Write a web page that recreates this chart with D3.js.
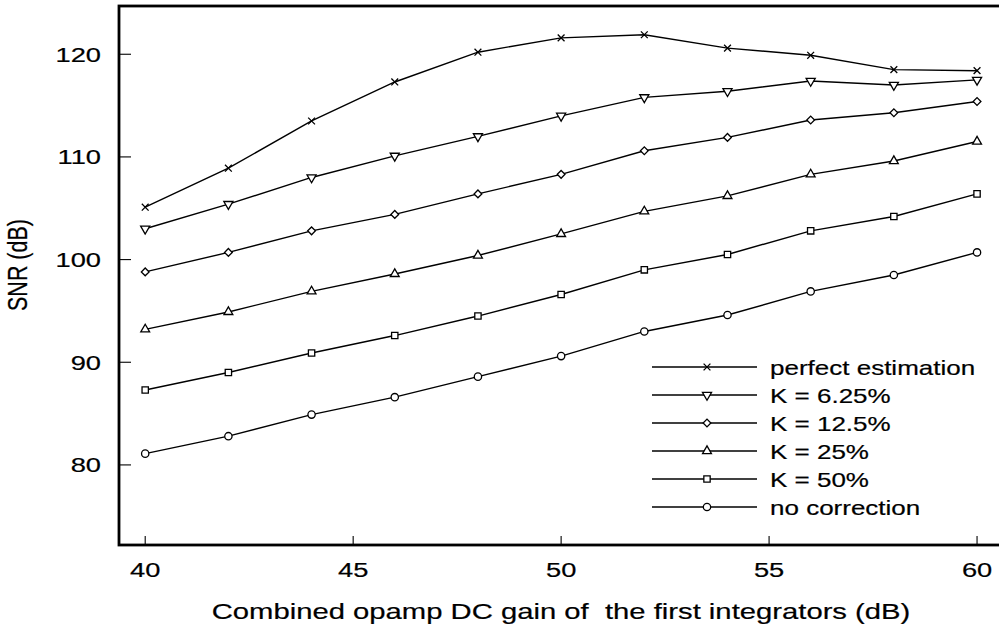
<!DOCTYPE html>
<html>
<head>
<meta charset="utf-8">
<script src="https://cdn.jsdelivr.net/npm/d3@7"></script>
<style>
  body { margin: 0; background: #fff; }
  text { font-family: "Liberation Sans", Arial, sans-serif; fill: #000; stroke: #000; stroke-width: 0.2; white-space: pre; }
</style>
</head>
<body>
<svg id="chart" width="999" height="627"></svg>
<script>
// values
const gains = [40, 42, 44, 46, 48, 50, 52, 54, 56, 58, 60];
const perfect = [105.1, 108.9, 113.5, 117.3, 120.2, 121.6, 121.9, 120.6, 119.9, 118.5, 118.4];
const k625 = [103.0, 105.4, 108.0, 110.1, 112.0, 114.0, 115.8, 116.4, 117.4, 117.0, 117.5];
const k125 = [98.8, 100.7, 102.8, 104.4, 106.4, 108.3, 110.6, 111.9, 113.6, 114.3, 115.4];
const k25 = [93.2, 94.9, 96.9, 98.6, 100.4, 102.5, 104.7, 106.2, 108.3, 109.6, 111.5];
const k50 = [87.3, 89.0, 90.9, 92.6, 94.5, 96.6, 99.0, 100.5, 102.8, 104.2, 106.4];
const noCorr = [81.1, 82.8, 84.9, 86.6, 88.6, 90.6, 93.0, 94.6, 96.9, 98.5, 100.7];

const seriesNames = ["perfect estimation", "K = 6.25%", "K = 12.5%", "K = 25%", "K = 50%", "no correction"];
const seriesVals = [perfect, k625, k125, k25, k50, noCorr];
const seriesMarks = ["x", "tridown", "diamond", "triup", "square", "circle"];

const xTicks = [40, 45, 50, 55, 60];
const yTicks = [80, 90, 100, 110, 120];

const svg = d3.select("#chart");
const SX = 1.3; // the scanned lettering is wide

const x = d3.scaleLinear().domain([39.37, 60.6]).range([119, 1002]);
const y = d3.scaleLinear().domain([72.2, 124.7]).range([545, 6]);

// frame
svg.append("rect")
    .attr("x", x.range()[0]).attr("y", y.range()[1])
    .attr("width", x.range()[1] - x.range()[0])
    .attr("height", y.range()[0] - y.range()[1])
    .attr("fill", "none").attr("stroke", "#000").attr("stroke-width", 2.8);

// inward ticks
svg.append("g").selectAll("line").data(yTicks).enter().append("line")
    .attr("x1", 119).attr("x2", 131)
    .attr("y1", d => y(d)).attr("y2", d => y(d))
    .attr("stroke", "#000").attr("stroke-width", 1.1);
svg.append("g").selectAll("line").data(xTicks).enter().append("line")
    .attr("x1", d => x(d)).attr("x2", d => x(d))
    .attr("y1", 545).attr("y2", 536)
    .attr("stroke", "#000").attr("stroke-width", 1.1);

function label(px, py, str, size, anchor, rot) {
    return svg.append("text")
        .attr("transform", "translate(" + px + "," + py + ") scale(" + SX + ",1)" + (rot ? " rotate(" + rot + ")" : ""))
        .attr("font-size", size)
        .attr("text-anchor", anchor)
        .text(str);
}

yTicks.forEach(d => label(101, y(d) + 7.5, d, 21, "end"));
xTicks.forEach(d => label(x(d), 577, d, 21, "middle"));
label(561, 619, "Combined opamp DC gain of  the first integrators (dB)", 22.5, "middle");
label(27, 265, "SNR (dB)", 21.5, "middle", -90);

// markers
function drawMark(g, type, cx, cy) {
    if (type === "x") {
        const s = 3.4;
        g.append("path")
            .attr("d", "M" + (cx - s) + "," + (cy - s) + "L" + (cx + s) + "," + (cy + s) +
                "M" + (cx - s) + "," + (cy + s) + "L" + (cx + s) + "," + (cy - s))
            .attr("stroke", "#000").attr("stroke-width", 1.3);
        return;
    }
    let sym, size = 40, rot = 0;
    if (type === "tridown") { sym = d3.symbolTriangle; rot = 180; size = 36; }
    else if (type === "triup") { sym = d3.symbolTriangle; size = 34; }
    else if (type === "diamond") { sym = d3.symbolSquare; rot = 45; size = 30; }
    else if (type === "square") { sym = d3.symbolSquare; size = 40; }
    else { sym = d3.symbolCircle; size = 42; }
    g.append("path")
        .attr("d", d3.symbol().type(sym).size(size)())
        .attr("transform", "translate(" + cx + "," + cy + ") rotate(" + rot + ")")
        .attr("fill", "#fff").attr("stroke", "#000").attr("stroke-width", 1.3);
}

const line = d3.line().x(d => x(d[0])).y(d => y(d[1]));

seriesVals.forEach(function (vals, i) {
    const pts = gains.map((g, j) => [g, vals[j]]);
    const g = svg.append("g");
    g.append("path").datum(pts)
        .attr("d", line)
        .attr("fill", "none").attr("stroke", "#000").attr("stroke-width", 1.4);
    pts.forEach(p => drawMark(g, seriesMarks[i], x(p[0]), y(p[1])));
});

// legend
seriesNames.forEach(function (name, i) {
    const ly = 367 + i * 28;
    const g = svg.append("g");
    g.append("line").attr("x1", 652).attr("x2", 757).attr("y1", ly).attr("y2", ly)
        .attr("stroke", "#000").attr("stroke-width", 1.3);
    drawMark(g, seriesMarks[i], 707, ly);
    label(770, ly + 7.5, name, 20, "start");
});
</script>
</body>
</html>
